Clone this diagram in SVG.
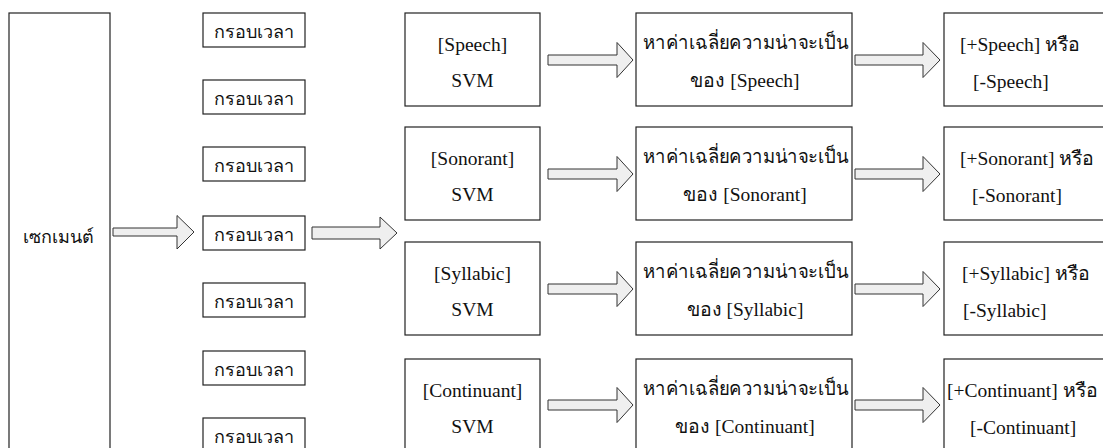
<svg xmlns="http://www.w3.org/2000/svg" width="1103" height="448" viewBox="0 0 1103 448">
<style>
.box{fill:#fff;stroke:#222;stroke-width:1.2}
.arr{fill:#efefef;stroke:#333;stroke-width:1}
.t{font-family:"Liberation Serif","Times New Roman","DejaVu Serif",serif;font-size:19.5px;fill:#111;text-anchor:middle}
.ts{font-family:"Liberation Serif","Times New Roman","DejaVu Serif",serif;font-size:19.5px;fill:#111}
.tf{font-family:"Noto Sans","DejaVu Sans",sans-serif;font-size:18px;fill:#111;text-anchor:middle}
</style>
<rect width="1103" height="448" fill="#fff"/>
<g id="segment"><rect class="box" x="9" y="13" width="101" height="445"/><text class="tf" x="58" y="243">เซกเมนต์</text></g>
<g id="frame1"><rect class="box" x="203" y="13" width="102" height="34"/><text class="tf" x="254" y="38">กรอบเวลา</text></g>
<g id="frame2"><rect class="box" x="203" y="80" width="102" height="34"/><text class="tf" x="254" y="105">กรอบเวลา</text></g>
<g id="frame3"><rect class="box" x="203" y="147" width="102" height="34"/><text class="tf" x="254" y="172">กรอบเวลา</text></g>
<g id="frame4"><rect class="box" x="203" y="216" width="102" height="34"/><text class="tf" x="254" y="241">กรอบเวลา</text></g>
<g id="frame5"><rect class="box" x="203" y="283" width="102" height="34"/><text class="tf" x="254" y="308">กรอบเวลา</text></g>
<g id="frame6"><rect class="box" x="203" y="351" width="102" height="34"/><text class="tf" x="254" y="376">กรอบเวลา</text></g>
<g id="frame7"><rect class="box" x="203" y="418" width="102" height="34"/><text class="tf" x="254" y="443">กรอบเวลา</text></g>

<g id="svm1"><rect class="box" x="405" y="13" width="135" height="93"/><text class="t" x="472.5" y="51">[Speech]</text><text class="t" x="472.5" y="87">SVM</text></g>
<g id="svm2"><rect class="box" x="405" y="127" width="135" height="93"/><text class="t" x="472.5" y="165">[Sonorant]</text><text class="t" x="472.5" y="201">SVM</text></g>
<g id="svm3"><rect class="box" x="405" y="242" width="135" height="93"/><text class="t" x="472.5" y="280">[Syllabic]</text><text class="t" x="472.5" y="316">SVM</text></g>
<g id="svm4"><rect class="box" x="405" y="359" width="135" height="93"/><text class="t" x="472.5" y="397">[Continuant]</text><text class="t" x="472.5" y="433">SVM</text></g>

<g id="avg1"><rect class="box" x="636" y="13" width="216" height="93"/><text class="ts" x="643" y="49" textLength="205" lengthAdjust="spacingAndGlyphs">หาค่าเฉลี่ยความน่าจะเป็น</text><text class="t" x="745" y="87">ของ [Speech]</text></g>
<g id="avg2"><rect class="box" x="636" y="127" width="216" height="93"/><text class="ts" x="643" y="163" textLength="205" lengthAdjust="spacingAndGlyphs">หาค่าเฉลี่ยความน่าจะเป็น</text><text class="t" x="745" y="201">ของ [Sonorant]</text></g>
<g id="avg3"><rect class="box" x="636" y="242" width="216" height="93"/><text class="ts" x="643" y="278" textLength="205" lengthAdjust="spacingAndGlyphs">หาค่าเฉลี่ยความน่าจะเป็น</text><text class="t" x="745" y="316">ของ [Syllabic]</text></g>
<g id="avg4"><rect class="box" x="636" y="359" width="216" height="93"/><text class="ts" x="643" y="395" textLength="205" lengthAdjust="spacingAndGlyphs">หาค่าเฉลี่ยความน่าจะเป็น</text><text class="t" x="745" y="433">ของ [Continuant]</text></g>

<g id="res1"><rect class="box" x="944" y="13" width="162" height="93"/><text class="ts" x="960" y="51">[+Speech] หรือ</text><text class="ts" x="973" y="88">[-Speech]</text></g>
<g id="res2"><rect class="box" x="944" y="127" width="162" height="93"/><text class="ts" x="960" y="165">[+Sonorant] หรือ</text><text class="ts" x="972" y="202">[-Sonorant]</text></g>
<g id="res3"><rect class="box" x="944" y="242" width="162" height="93"/><text class="ts" x="962" y="280">[+Syllabic] หรือ</text><text class="ts" x="963" y="317">[-Syllabic]</text></g>
<g id="res4"><rect class="box" x="944" y="359" width="162" height="93"/><text class="ts" x="947" y="397">[+Continuant] หรือ</text><text class="ts" x="970" y="434">[-Continuant]</text></g>

<g id="connectors">
<polygon class="arr" points="113,228 177,228 177,215.5 194,232 177,249 177,236 113,236"/>
<polygon class="arr" points="312,227 380,227 380,217 397,233 380,249 380,239 312,239"/>
<polygon class="arr" points="548,55 617,55 617,42.5 633,60 617,77.5 617,65 548,65"/>
<polygon class="arr" points="855,55 923,55 923,42.5 940,60 923,77.5 923,65 855,65"/>
<polygon class="arr" points="548,169 617,169 617,156.5 633,174 617,191.5 617,179 548,179"/>
<polygon class="arr" points="855,169 923,169 923,156.5 940,174 923,191.5 923,179 855,179"/>
<polygon class="arr" points="548,284 617,284 617,271.5 633,289 617,306.5 617,294 548,294"/>
<polygon class="arr" points="855,284 923,284 923,271.5 940,289 923,306.5 923,294 855,294"/>
<polygon class="arr" points="548,400 617,400 617,387.5 633,405 617,422.5 617,410 548,410"/>
<polygon class="arr" points="855,400 923,400 923,387.5 940,405 923,422.5 923,410 855,410"/>
</g>
</svg>
